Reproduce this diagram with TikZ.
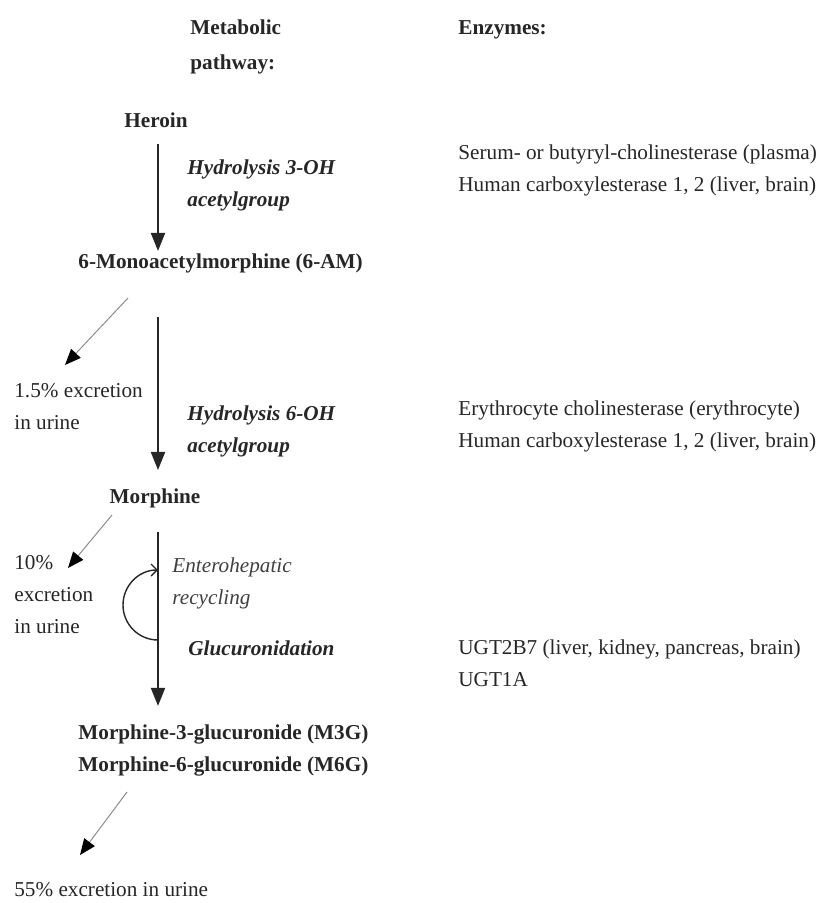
\documentclass[tikz,border=0pt]{standalone}
\usepackage{fontspec}
\setmainfont{Liberation Serif}
\usepackage{tikz}
\usetikzlibrary{calc,positioning,arrows.meta}
\tikzset{
    every node/.style={inner sep=0pt, align=left, text=black!85, font=\fontsize{10.6}{16}\selectfont}, % all texts
    chem/.style={font=\fontsize{10.6}{16}\selectfont\bfseries}, % substances
    react/.style={font=\fontsize{10.6}{16}\selectfont\bfseries\itshape}, % reactions
    recyc/.style={font=\fontsize{10.6}{16}\selectfont\itshape, text=black!75},
    flow/.style={-{Triangle[length=9pt,width=7pt]}, line width=1pt, black!85}, % main pathway arrows
    urine/.style={-{Triangle[length=8pt,width=6.5pt,color=black,fill=black]}, line width=0.5pt, black!45}, % excretion arrows
}
\begin{document}
\begin{tikzpicture}[x=0.5pt,y=-0.5pt]
    \useasboundingbox (0,0) rectangle (819,903);
    % headings
    \node[chem,anchor=west] (meta) at (190,47) {Metabolic\\[1.5pt]pathway:};
    \node[chem,anchor=west] (enz) at (458,30) {Enzymes:};
    % pathway
    \node[chem] (heroin) at (156,120) {Heroin};
    \node[react,anchor=west] (hyd1) at (187,185) {Hydrolysis 3-OH\\acetylgroup};
    \node[chem,anchor=west] (mam) at (78,263) {6-Monoacetylmorphine (6-AM)};
    \node[react,anchor=west] (hyd2) at (187,431) {Hydrolysis 6-OH\\acetylgroup};
    \node[chem] (morph) at (155,498) {Morphine};
    \node[recyc,anchor=west] (entero) at (172,583) {Enterohepatic\\recycling};
    \node[react,anchor=west] (gluc) at (188,648) {Glucuronidation};
    \node[chem,anchor=west] (gluco) at (78,750) {Morphine-3-glucuronide (M3G)\\Morphine-6-glucuronide (M6G)};
    % excretion
    \node[anchor=west] (ex1) at (14,407) {1.5\% excretion\\in urine};
    \node[anchor=west] (ex2) at (14,595) {10\%\\excretion\\in urine};
    \node[anchor=west] (ex3) at (14,890) {55\% excretion in urine};
    % enzymes
    \node[anchor=west] (enz1) at (458,170) {Serum- or butyryl-cholinesterase (plasma)\\Human carboxylesterase 1, 2 (liver, brain)};
    \node[anchor=west] (enz2) at (458,426) {Erythrocyte cholinesterase (erythrocyte)\\Human carboxylesterase 1, 2 (liver, brain)};
    \node[anchor=west] (enz3) at (458,663) {UGT2B7 (liver, kidney, pancreas, brain)\\UGT1A};

    \coordinate (col) at (158,0); % x of the pathway arrows
    \draw[flow, shorten <=8pt, shorten >=1pt] (col |- heroin.south) -- (col |- mam.north);
    \draw[flow, shorten <=22pt, shorten >=9pt] (col |- mam.south) -- (col |- morph.north);
    \draw[flow, shorten <=12pt, shorten >=9pt] (col |- morph.south) -- (col |- gluco.north);

    \coordinate (loop) at (158,640);
    \draw[-{Straight Barb[length=3pt,width=6pt]}, line width=0.7pt, black!85] (loop) arc[start angle=270, end angle=90, radius=17.5pt];

    \coordinate (u1a) at (128,298);
    \coordinate (u1b) at (65,365);
    \coordinate (u2a) at (112,515);
    \coordinate (u2b) at (68,568);
    \coordinate (u3a) at (127,792);
    \coordinate (u3b) at (80,855);
    \path[urine]
    (u1a) edge (u1b)
    (u2a) edge (u2b)
    (u3a) edge (u3b);
\end{tikzpicture}
\end{document}
